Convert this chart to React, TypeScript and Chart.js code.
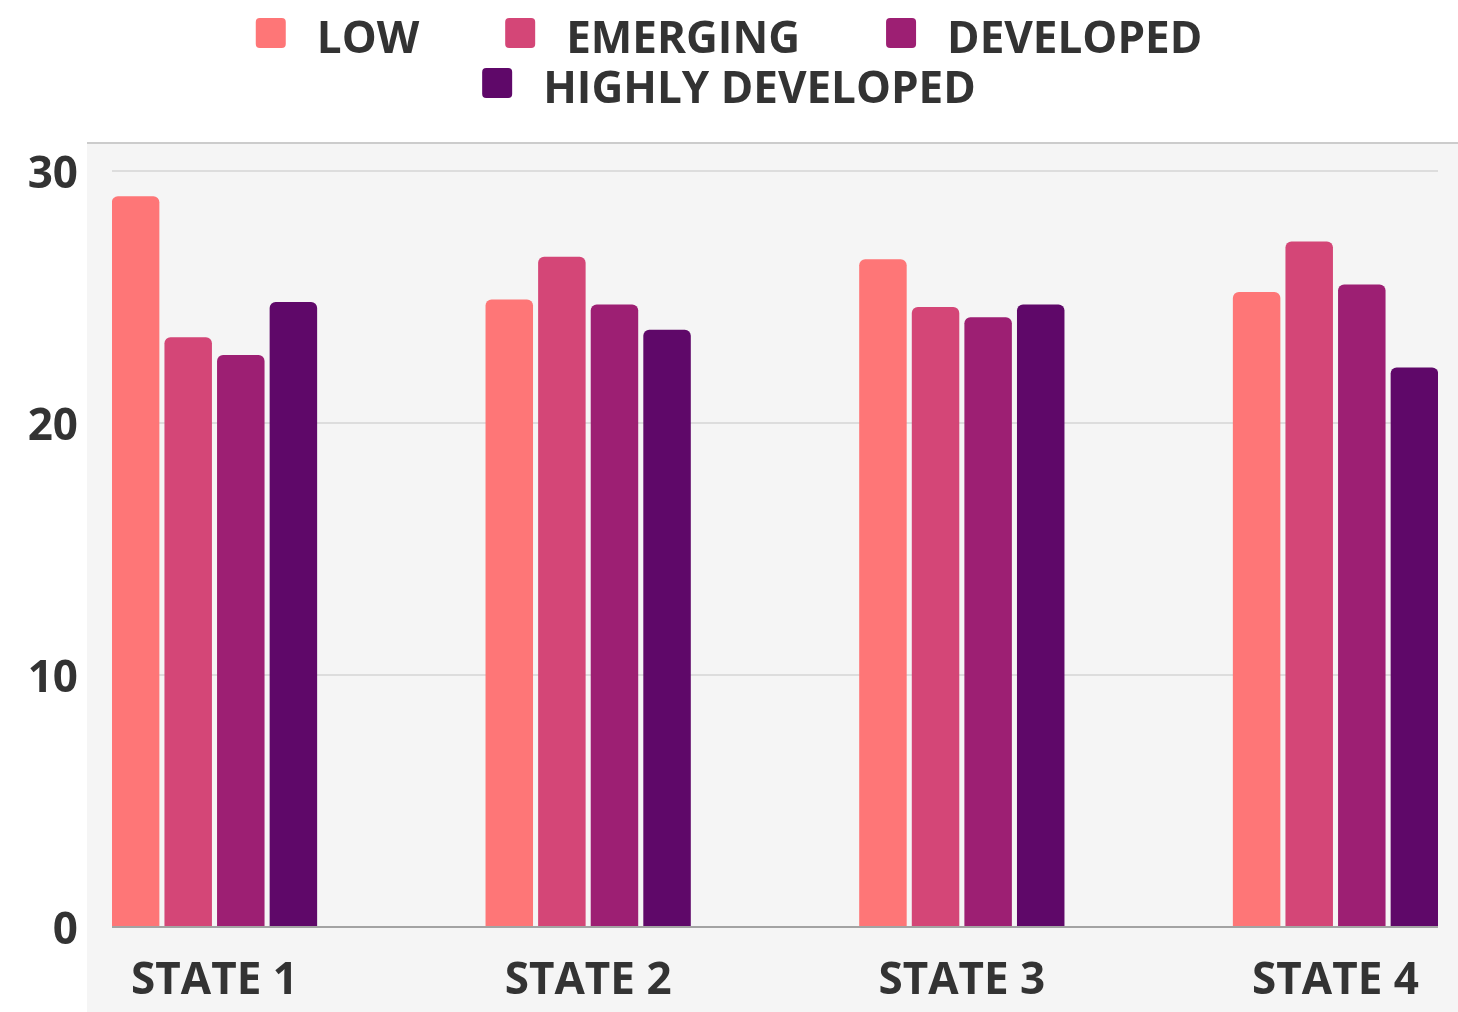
import React, { useEffect, useRef } from 'react';
import { Chart, registerables } from 'chart.js';

Chart.register(...registerables);

const categories = ['STATE 1', 'STATE 2', 'STATE 3', 'STATE 4'];
const seriesNames = ['LOW', 'EMERGING', 'DEVELOPED', 'HIGHLY DEVELOPED'];
const low = [29.0, 24.9, 26.5, 25.2];
const emerging = [23.4, 26.6, 24.6, 27.2];
const developed = [22.7, 24.7, 24.2, 25.5];
const highlyDeveloped = [24.8, 23.7, 24.7, 22.2];
const yTicks = [0, 10, 20, 30];
const colors = ['#fe7677', '#d44677', '#9d1f73', '#5f0869'];

const FONT_FAMILY = '"Open Sans", "DejaVu Sans", sans-serif';
const TEXT_COLOR = '#333333';

const panelPlugin = {
  id: 'panelBackground',
  beforeDraw(chart: any) {
    const { ctx, width, height, chartArea } = chart;
    const left = chartArea.left - 25;
    const top = chartArea.top - 28;
    ctx.save();
    ctx.fillStyle = '#f5f5f5';
    ctx.fillRect(left, top, width - left, height - top);
    ctx.strokeStyle = '#cccccc';
    ctx.lineWidth = 2;
    ctx.beginPath();
    ctx.moveTo(left, top);
    ctx.lineTo(width, top);
    ctx.stroke();
    ctx.restore();
  },
};

const legendPlugin = {
  id: 'customLegend',
  afterDraw(chart: any) {
    const { ctx, width } = chart;
    const datasets = chart.data.datasets;
    ctx.save();
    ctx.font = `bold 44px ${FONT_FAMILY}`;
    const boxSize = 30;
    const textOffset = 61;
    const gap = 86;
    const maxWidth = width - 150;
    const items = datasets.map((ds: any) => ({
      label: ds.label as string,
      color: ds.backgroundColor as string,
      w: textOffset + ctx.measureText(ds.label).width,
    }));
    const rows: any[][] = [];
    let cur: any[] = [];
    let curW = 0;
    items.forEach((it: any) => {
      const add = cur.length ? gap + it.w : it.w;
      if (cur.length && curW + add > maxWidth) {
        rows.push(cur);
        cur = [it];
        curW = it.w;
      } else {
        cur.push(it);
        curW += add;
      }
    });
    if (cur.length) rows.push(cur);
    rows.forEach((row, r) => {
      const total = row.reduce((s: number, it: any) => s + it.w, 0) + gap * (row.length - 1);
      let x = (width - total) / 2;
      const baseline = 53 + r * 50;
      row.forEach((it: any) => {
        ctx.fillStyle = it.color;
        ctx.beginPath();
        if (ctx.roundRect) ctx.roundRect(x, baseline - 35, boxSize, boxSize, 4);
        else ctx.rect(x, baseline - 35, boxSize, boxSize);
        ctx.fill();
        ctx.fillStyle = TEXT_COLOR;
        ctx.textAlign = 'left';
        ctx.textBaseline = 'alphabetic';
        ctx.fillText(it.label, x + textOffset, baseline);
        x += it.w + gap;
      });
    });
    ctx.restore();
  },
};

export default function App() {
  const canvasRef = useRef<HTMLCanvasElement | null>(null);

  useEffect(() => {
    document.body.style.margin = '0';
    document.body.style.overflow = 'hidden';
    const canvas = canvasRef.current;
    if (!canvas) return;
    const seriesValues = [low, emerging, developed, highlyDeveloped];
    const chart = new Chart(canvas, {
      type: 'bar',
      data: {
        datasets: seriesNames.map((name, i) => ({
          label: name,
          data: seriesValues[i].map((v, j) => ({ x: j, y: v })),
          backgroundColor: colors[i],
          borderRadius: { topLeft: 6, topRight: 6, bottomLeft: 0, bottomRight: 0 },
          borderSkipped: false,
          categoryPercentage: 0.563,
          barPercentage: 0.903,
        })),
      },
      options: {
        animation: false,
        responsive: true,
        maintainAspectRatio: false,
        layout: { padding: { top: 171, left: 28, right: 20, bottom: 10 } },
        plugins: {
          legend: { display: false },
          tooltip: { enabled: false },
        },
        scales: {
          x: {
            type: 'linear',
            min: -0.2743,
            max: 3.2743,
            offset: false,
            grid: { display: false },
            border: { display: false },
            afterBuildTicks: (scale: any) => {
              scale.ticks = categories.map((_, i) => ({ value: i }));
            },
            afterFit: (scale: any) => {
              scale.height = 75;
            },
            ticks: {
              autoSkip: false,
              maxRotation: 0,
              padding: 20,
              color: TEXT_COLOR,
              font: { family: FONT_FAMILY, size: 44, weight: 'bold' },
              callback: (v: any) => categories[v as number] ?? '',
            },
          },
          y: {
            min: 0,
            max: 30,
            afterBuildTicks: (scale: any) => {
              scale.ticks = yTicks.map((v) => ({ value: v }));
            },
            afterFit: (scale: any) => {
              scale.width = 84;
            },
            border: { display: false },
            grid: {
              drawTicks: false,
              lineWidth: 2,
              color: (c: any) => (c.tick && c.tick.value === 0 ? '#a3a3a3' : '#dddddd'),
            },
            ticks: {
              padding: 34,
              labelOffset: 4,
              color: TEXT_COLOR,
              font: { family: FONT_FAMILY, size: 44, weight: 'bold' },
            },
          },
        },
      },
      plugins: [panelPlugin, legendPlugin],
    } as any);
    return () => chart.destroy();
  }, []);

  return (
    <div style={{ width: '1458px', height: '1012px', position: 'relative' }}>
      <canvas ref={canvasRef} />
    </div>
  );
}
